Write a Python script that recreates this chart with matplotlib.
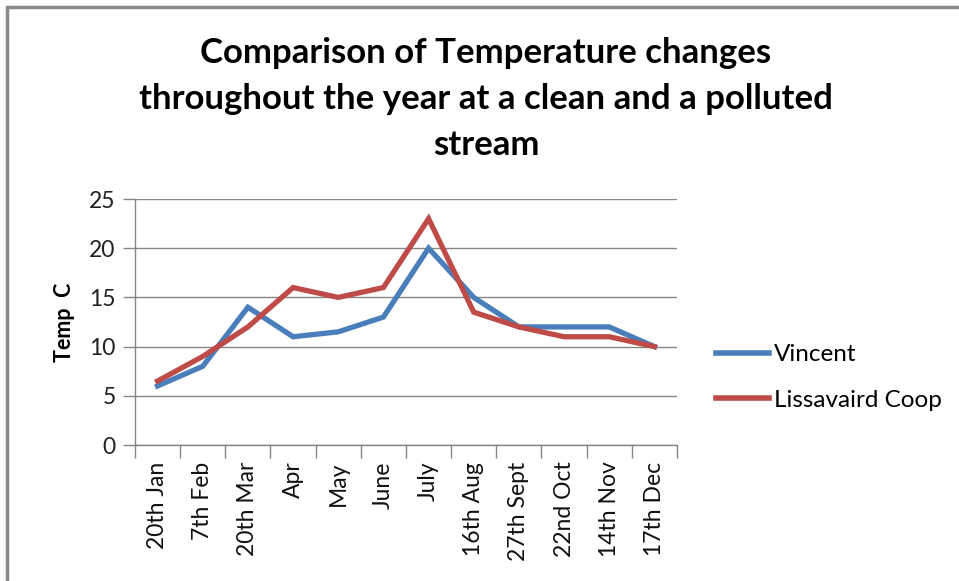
import matplotlib
matplotlib.use("Agg")
import matplotlib.pyplot as plt
from matplotlib.patches import Rectangle

dates = ["20th Jan", "7th Feb", "20th Mar", "Apr", "May", "June",
         "July", "16th Aug", "27th Sept", "22nd Oct", "14th Nov", "17th Dec"]
vincent = [6, 8, 14, 11, 11.5, 13, 20, 15, 12, 12, 12, 10]
lissavaird = [6.5, 9, 12, 16, 15, 16, 23, 13.5, 12, 11, 11, 10]
y_ticks = [0, 5, 10, 15, 20, 25]

plt.rcParams['font.family'] = ['Lato', 'DejaVu Sans']
grey = "#868686"

fig = plt.figure(figsize=(9.59, 5.81), dpi=100)
ax = fig.add_axes([135/959, 1 - 445/581, (677-135)/959, (445-199)/581])

x = range(len(dates))
ax.plot(x, vincent, color="#4A7EBB", linewidth=3.8, label="Vincent", solid_joinstyle='miter')
ax.plot(x, lissavaird, color="#BE4B48", linewidth=3.8, label="Lissavaird Coop", solid_joinstyle='miter')

ax.set_xlim(-0.5, len(dates) - 0.5)
ax.set_ylim(0, 25)
ax.set_yticks(y_ticks)
ax.set_yticklabels([str(v) for v in y_ticks], fontsize=16.5, color="#222222")
ax.yaxis.grid(True, color=grey, linewidth=1)
ax.set_axisbelow(True)

# category labels in the middle, tick marks on the boundaries
ax.set_xticks(list(x))
ax.set_xticklabels(dates, rotation=90, fontsize=16.5, color="#111111")
ax.set_xticks([i - 0.5 for i in range(len(dates) + 1)], minor=True)
ax.tick_params(axis='x', which='major', length=0, pad=12)
ax.tick_params(axis='x', which='minor', length=9, color=grey, width=1)
ax.tick_params(axis='y', length=9, color=grey, width=1, pad=5)

for s in ["top", "right"]:
    ax.spines[s].set_visible(False)
for s in ["left", "bottom"]:
    ax.spines[s].set_color(grey)
    ax.spines[s].set_linewidth(1)

ax.set_ylabel("Temp  C", fontsize=15.5, fontweight="bold", labelpad=10)

fig.text(486/959, 1 - 99/581,
         "Comparison of Temperature changes\nthroughout the year at a clean and a polluted\nstream",
         ha="center", va="center", fontsize=25, fontweight="bold", linespacing=1.55)

leg = ax.legend(loc="center left", bbox_to_anchor=(716/959, 1 - 377.5/581),
                bbox_transform=fig.transFigure, frameon=False, borderpad=0, borderaxespad=0,
                fontsize=17.5, handlelength=2.2, handletextpad=0.2, labelspacing=1.0)
for line in leg.get_lines():
    line.set_linewidth(4)

# outer chart frame
fig.patches.append(Rectangle((7/959, -0.1), 1.2, 1.1 - 7/581, transform=fig.transFigure,
                             fill=False, edgecolor="#8a8a8a", linewidth=2.5))

fig.savefig("out.png", dpi=100)
